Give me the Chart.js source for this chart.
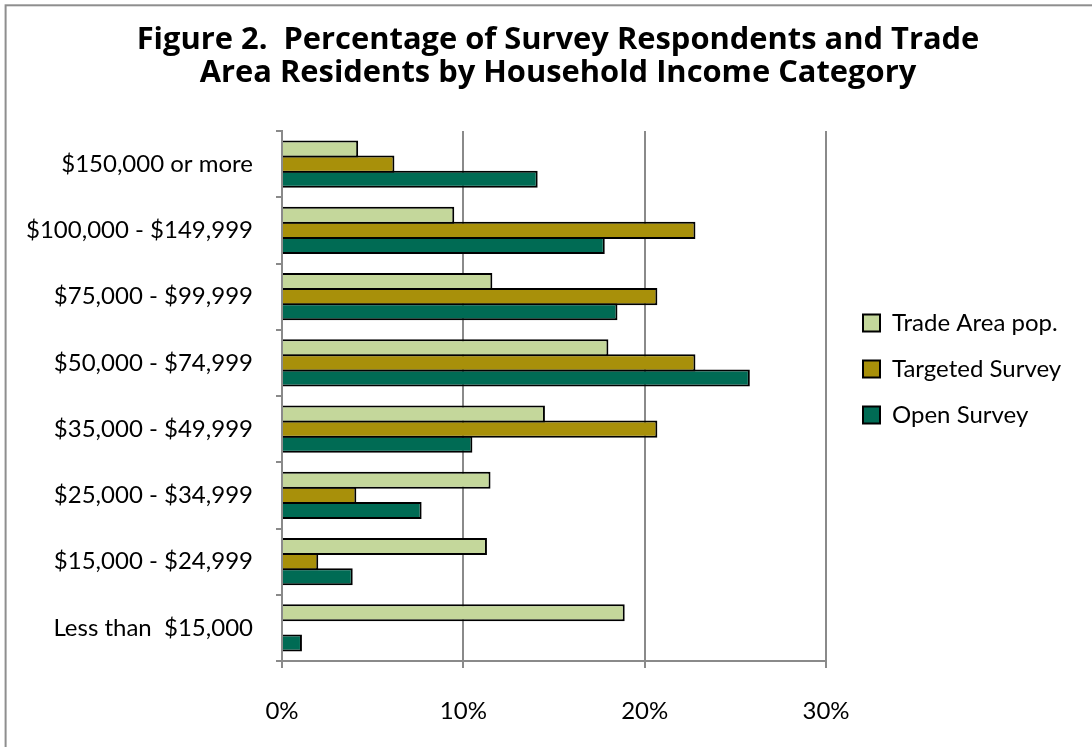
<!DOCTYPE html>
<html>
<head>
<meta charset="utf-8">
<script src="https://cdn.jsdelivr.net/npm/chart.js@4.4.1/dist/chart.umd.min.js"></script>
<style>
  html, body { margin: 0; padding: 0; background: #ffffff; }
  #wrap { width: 1092px; height: 747px; position: relative; }
  canvas { display: block; }
</style>
</head>
<body>
<div id="wrap"><canvas id="chart" width="1092" height="747"></canvas></div>
<script>
// ---- data ----
const categories = [
  "$150,000 or more",
  "$100,000 - $149,999",
  "$75,000 - $99,999",
  "$50,000 - $74,999",
  "$35,000 - $49,999",
  "$25,000 - $34,999",
  "$15,000 - $24,999",
  "Less than  $15,000"
];
const seriesNames = ["Trade Area pop.", "Targeted Survey", "Open Survey"];
const tradeArea = [4.2, 9.5, 11.6, 18.0, 14.5, 11.5, 11.3, 18.9];
const targetedSurvey = [6.2, 22.8, 20.7, 22.8, 20.7, 4.1, 2.0, 0];
const openSurvey = [14.1, 17.8, 18.5, 25.8, 10.5, 7.7, 3.9, 1.1];
const xTickValues = [0, 10, 20, 30];
const titleLines = [
  "Figure 2.  Percentage of Survey Respondents and Trade",
  "Area Residents by Household Income Category"
];

// ---- style ----
const FONT = "Lato, 'Open Sans', sans-serif";
const TITLE_FONT = "'Open Sans', Lato, sans-serif";
const LABEL_SIZE = 24;
const W = 1092, H = 747;
const PLOT = { left: 282, right: 826, top: 131, bottom: 661 };
const LEG = { pad: 22, box: 17, boxX: 863, firstY: 323 };
const TITLE = { width: 843, center: 558, firstMid: 40, gap: 33.4 };
const GRID = '#8a8a8a';

const mctx = document.createElement('canvas').getContext('2d');
mctx.font = LABEL_SIZE + 'px ' + FONT;
const maxTextW = Math.max(...seriesNames.map(s => mctx.measureText(s).width));
const legendW = LEG.pad + LEG.box + LABEL_SIZE / 2 + maxTextW + 10;
const padRight = Math.max(0, W - PLOT.right - legendW);

mctx.font = 'bold 30px ' + TITLE_FONT;
const titleSize = 30 * TITLE.width / mctx.measureText(titleLines[0]).width;
const titleLH = TITLE.gap / titleSize;
const titlePadTop = TITLE.firstMid - TITLE.gap / 2;
const titlePadBottom = PLOT.top - titlePadTop - TITLE.gap * titleLines.length;

const framePlugin = {
  id: 'frame',
  beforeDraw(chart) {
    const c = chart.ctx;
    c.save();
    c.fillStyle = '#ffffff';
    c.fillRect(0, 0, W, H);
    c.strokeStyle = '#8e8e8e';
    c.lineWidth = 2;
    c.strokeRect(5.6, 5.3, 1200, 1200);
    c.restore();
  },
  afterLayout(chart) {
    const lg = chart.legend;
    if (lg) {
      const w = lg.right - lg.left;
      lg.left = LEG.boxX - LEG.pad;
      lg.right = lg.left + w;
      const itemH = Math.max(LABEL_SIZE, LEG.box);
      const colH = lg.columnSizes[0].height;
      const curStart = (lg.top + LEG.pad + lg.bottom - colH) / 2;
      const dy = (LEG.firstY - itemH / 2) - curStart;
      lg.top += dy;
      lg.bottom += dy;
    }
    const tb = chart.titleBlock;
    if (tb) {
      const dx = TITLE.center - (tb.left + tb.right) / 2;
      tb.left += dx;
      tb.right += dx;
    }
  }
};

const tickFont = { family: FONT, size: LABEL_SIZE };

new Chart(document.getElementById('chart'), {
  type: 'bar',
  data: {
    labels: categories,
    datasets: [
      { label: seriesNames[0], data: tradeArea, backgroundColor: '#C4D79B', borderColor: '#000000', borderWidth: 2 },
      { label: seriesNames[1], data: targetedSurvey, backgroundColor: '#A8900A', borderColor: '#000000', borderWidth: 2 },
      { label: seriesNames[2], data: openSurvey, backgroundColor: '#006B54', borderColor: '#000000', borderWidth: 2 }
    ]
  },
  options: {
    indexAxis: 'y',
    responsive: false,
    animation: false,
    devicePixelRatio: 1,
    categoryPercentage: 0.68,
    barPercentage: 1.133,
    layout: { padding: { left: 0, right: padRight, top: 0, bottom: 0 } },
    plugins: {
      title: {
        display: true,
        text: titleLines,
        color: '#000000',
        font: { family: TITLE_FONT, size: titleSize, weight: 'bold', lineHeight: titleLH },
        padding: { top: titlePadTop, bottom: titlePadBottom }
      },
      legend: {
        position: 'right',
        maxWidth: W - PLOT.right,
        labels: {
          color: '#000000',
          font: tickFont,
          boxWidth: LEG.box,
          boxHeight: LEG.box,
          padding: LEG.pad
        }
      },
      tooltip: { enabled: false }
    },
    scales: {
      x: {
        min: 0,
        max: 30,
        afterBuildTicks(scale) { scale.ticks = xTickValues.map(v => ({ value: v })); },
        ticks: { color: '#000000', font: tickFont, padding: 29, callback: v => v + '%' },
        grid: { color: GRID, lineWidth: 2, tickLength: 7 },
        border: { color: GRID, width: 2 },
        afterFit(scale) { scale.height = H - PLOT.bottom; }
      },
      y: {
        ticks: { color: '#000000', font: tickFont, padding: 23 },
        grid: { drawOnChartArea: false, color: GRID, lineWidth: 2, tickLength: 6, offset: true },
        border: { color: GRID, width: 2 },
        afterFit(scale) { scale.width = PLOT.left; }
      }
    }
  },
  plugins: [framePlugin]
});
</script>
</body>
</html>
